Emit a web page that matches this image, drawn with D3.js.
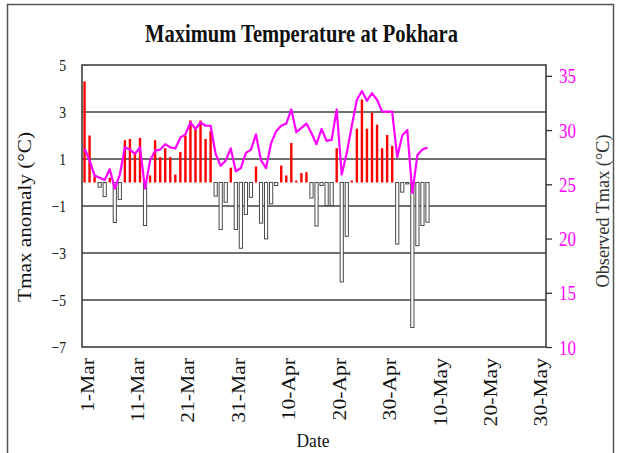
<!DOCTYPE html>
<html>
<head>
<meta charset="utf-8">
<script src="https://cdn.jsdelivr.net/npm/d3@7"></script>
<style>
  body { margin: 0; background: #fff; }
  text { font-family: "Liberation Serif", "Times New Roman", serif; }
</style>
</head>
<body>
<script>
// anomalie de Tmax (°C), un jour par valeur à partir du 1er mars
const anomalie = [4.3, 2.0, 0.25, -0.2, -0.6, 0.2, -1.7, -0.72, 1.8, 1.85,
  1.3, 1.9, -1.83, 0.3, 1.8, 1.08, 1.46, 1.08, 0.34, 1.3,
  2.0, 2.64, 2.29, 2.64, 1.85, 2.19, -0.58, -2.0, -0.84, 0.63,
  -2.0, -2.8, -1.36, -0.63, 0.68, -1.73, -2.4, -0.91, -0.13, 0.72,
  0.3, 1.68, 0.08, 0.4, 0.44, -0.66, -1.85, -0.13, -0.98, -0.98,
  1.46, -4.23, -2.29, 0.08, 2.29, 3.53, 2.29, 2.97, 2.46, 1.46,
  2.02, 1.56, -2.62, -0.41, -0.06, -6.17, -2.69, -1.83, -1.69];

// Tmax observée (°C), mêmes jours
const tmaxObs = [28.3, 27.2, 25.8, 25.6, 25.4, 26.4, 24.6, 25.9, 28.4, 28.2,
  27.8, 28.4, 24.6, 27.2, 28.1, 28.2, 28.7, 28.4, 28.3, 29.3,
  29.6, 30.7, 30.1, 30.7, 30.4, 30.4, 27.8, 26.7, 27.2, 28.3,
  26.2, 26.5, 27.9, 28.2, 29.6, 27.2, 26.5, 28.8, 29.9, 30.4,
  30.6, 31.9, 29.8, 30.2, 30.6, 29.7, 28.7, 30.1, 29.0, 29.1,
  31.9, 25.9, 27.9, 30.4, 32.8, 33.6, 32.7, 33.4, 32.8, 31.7,
  31.7, 31.7, 27.5, 29.5, 30.0, 24.2, 27.7, 28.2, 28.4];

const etiquettesX = ["1-Mar", "11-Mar", "21-Mar", "31-Mar", "10-Apr",
  "20-Apr", "30-Apr", "10-May", "20-May", "30-May"];
const ticksGauche = [5, 3, 1, -1, -3, -5, -7];
const ticksDroite = [10, 15, 20, 25, 30, 35];

// jours du 1er mars au 31 mai
const jours = d3.timeDay.range(new Date(2009, 2, 1), new Date(2009, 5, 1));

const svg = d3.select("body").append("svg")
  .attr("width", 619).attr("height", 453);

// cadre extérieur
svg.append("rect")
  .attr("x", 7.5).attr("y", 4.5).attr("width", 606).attr("height", 470)
  .attr("fill", "none").attr("stroke", "#555").attr("stroke-width", 1.5);

const x = d3.scaleBand().domain(jours).range([82, 546]);
const yG = d3.scaleLinear().domain([-7, 5]).range([347, 65]);
const yD = d3.scaleLinear().domain([10, 36]).range([347, 65]);
const cx = i => x(jours[i]) + x.bandwidth() / 2;

// resserrer / étirer un texte le long de sa ligne
function tasser(sel, k) {
  sel.each(function () {
    const l = this.getComputedTextLength();
    d3.select(this).attr("textLength", l * k).attr("lengthAdjust", "spacingAndGlyphs");
  });
}

// grille
svg.append("g").selectAll("line")
  .data(ticksGauche.slice(1, -1))
  .join("line")
  .attr("x1", 82).attr("x2", 546)
  .attr("y1", d => yG(d)).attr("y2", d => yG(d))
  .attr("stroke", "#404040").attr("stroke-width", 1.3);

// barres
svg.append("g").selectAll("rect")
  .data(anomalie)
  .join("rect")
  .attr("x", (d, i) => cx(i) - (d >= 0 ? 1.2 : 1.6))
  .attr("width", d => d >= 0 ? 2.4 : 3.2)
  .attr("y", d => yG(Math.max(0, d)))
  .attr("height", d => Math.abs(yG(d) - yG(0)))
  .attr("fill", d => d >= 0 ? "#ff0000" : "#fff")
  .attr("stroke", d => d >= 0 ? "none" : "#4a4a4a")
  .attr("stroke-width", 1);

// courbe Tmax observée
svg.append("path")
  .datum(tmaxObs)
  .attr("fill", "none")
  .attr("stroke", "#ff00ff")
  .attr("stroke-width", 2.2)
  .attr("stroke-linejoin", "round")
  .attr("d", d3.line().x((d, i) => cx(i)).y(d => yD(d)));

// bord du graphique
svg.append("rect")
  .attr("x", 82).attr("y", 65).attr("width", 464).attr("height", 282)
  .attr("fill", "none").attr("stroke", "#333").attr("stroke-width", 1.5);

// axe gauche
const axeG = svg.append("g").attr("transform", "translate(82,0)")
  .call(d3.axisLeft(yG).tickValues(ticksGauche).tickSize(0).tickPadding(16).tickFormat(d3.format("d")));
axeG.select(".domain").remove();
axeG.selectAll("text").attr("font-size", 17.5).attr("fill", "#111")
  .attr("font-family", null).call(tasser, 0.78);

// axe droit
const axeD = svg.append("g").attr("transform", "translate(546,0)")
  .call(d3.axisRight(yD).tickValues(ticksDroite).tickSize(6).tickPadding(7));
axeD.select(".domain").remove();
axeD.selectAll("line").attr("stroke", "#333").attr("stroke-width", 1.3);
axeD.selectAll("text").attr("font-size", 22).attr("fill", "#ff00ff")
  .attr("font-family", null).call(tasser, 0.77);

// axe du bas
const axeB = svg.append("g").attr("transform", "translate(0,347)")
  .call(d3.axisBottom(x)
    .tickValues(etiquettesX.map((e, i) => jours[i * 10]))
    .tickSize(0)
    .tickFormat((d, i) => etiquettesX[i]));
axeB.select(".domain").remove();
axeB.selectAll("text")
  .attr("transform", "rotate(-90)")
  .attr("x", -11).attr("y", 0).attr("dy", "0.5em")
  .attr("text-anchor", "end")
  .attr("font-size", 18).attr("fill", "#111")
  .attr("font-family", null)
  .call(tasser, 1.2);

// titres
svg.append("text")
  .attr("x", 301.5).attr("y", 42)
  .attr("text-anchor", "middle")
  .attr("font-size", 26).attr("font-weight", "bold").attr("fill", "#111")
  .attr("textLength", 313).attr("lengthAdjust", "spacingAndGlyphs")
  .text("Maximum Temperature at Pokhara");

svg.append("text")
  .attr("transform", "translate(31,217) rotate(-90)")
  .attr("text-anchor", "middle")
  .attr("font-size", 19).attr("fill", "#111")
  .attr("textLength", 170).attr("lengthAdjust", "spacingAndGlyphs")
  .text("Tmax anomaly (°C)");

svg.append("text")
  .attr("transform", "translate(609,211) rotate(-90)")
  .attr("text-anchor", "middle")
  .attr("font-size", 18).attr("fill", "#333")
  .attr("textLength", 153).attr("lengthAdjust", "spacingAndGlyphs")
  .text("Observed Tmax  (°C)");

svg.append("text")
  .attr("x", 313).attr("y", 447)
  .attr("text-anchor", "middle")
  .attr("font-size", 18).attr("fill", "#111")
  .attr("textLength", 33).attr("lengthAdjust", "spacingAndGlyphs")
  .text("Date");
</script>
</body>
</html>
